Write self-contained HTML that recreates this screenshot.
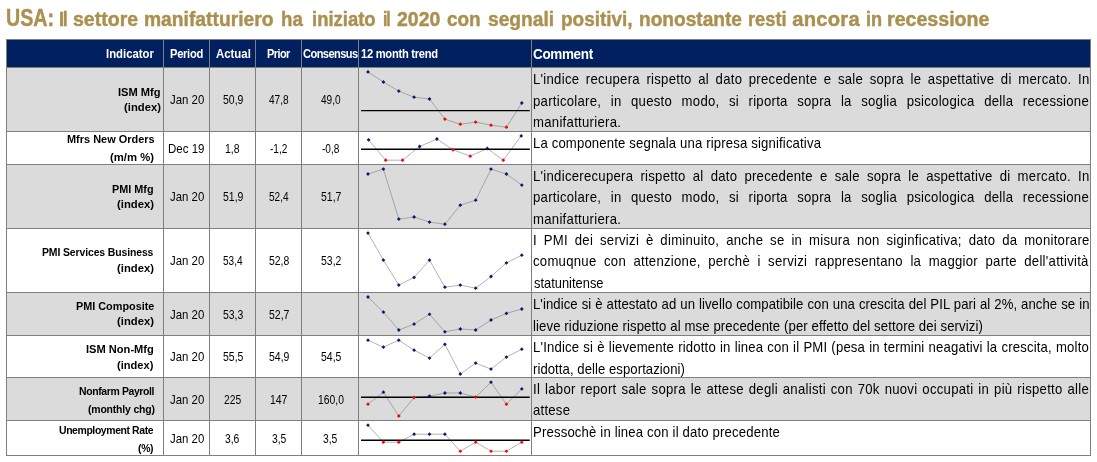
<!DOCTYPE html><html lang="it"><head><meta charset="utf-8"><title>USA indicators</title><style>
html,body{margin:0;padding:0;background:#fff}
body{width:1097px;height:462px;position:relative;overflow:hidden;font-family:"Liberation Sans", sans-serif}
.b{position:absolute}
.t{position:absolute;white-space:nowrap;transform-origin:0 0}
h1{margin:0;font:inherit}
svg{position:absolute;left:0;top:0}
</style></head><body>
<div class="b" style="left:6px;top:39px;width:1085px;height:28px;background:#002060"></div>
<div class="b" style="left:6px;top:66.5px;width:1085px;height:64.5px;background:#DBDBDB"></div>
<div class="b" style="left:6px;top:163.5px;width:1085px;height:64.5px;background:#DBDBDB"></div>
<div class="b" style="left:6px;top:291.5px;width:1085px;height:43.5px;background:#DBDBDB"></div>
<div class="b" style="left:6px;top:376.5px;width:1085px;height:43.5px;background:#DBDBDB"></div>
<div class="b" style="left:6px;top:39px;width:1px;height:416.5px;background:#7F7F7F"></div>
<div class="b" style="left:163px;top:39px;width:1px;height:416.5px;background:#7F7F7F"></div>
<div class="b" style="left:209px;top:39px;width:1px;height:416.5px;background:#7F7F7F"></div>
<div class="b" style="left:255px;top:39px;width:1px;height:416.5px;background:#7F7F7F"></div>
<div class="b" style="left:301px;top:39px;width:1px;height:416.5px;background:#7F7F7F"></div>
<div class="b" style="left:358px;top:39px;width:1px;height:416.5px;background:#7F7F7F"></div>
<div class="b" style="left:531px;top:39px;width:1px;height:416.5px;background:#7F7F7F"></div>
<div class="b" style="left:1090px;top:39px;width:1px;height:416.5px;background:#7F7F7F"></div>
<div class="b" style="left:6px;top:39px;width:1085px;height:1px;background:#7F7F7F"></div>
<div class="b" style="left:6px;top:66.5px;width:1085px;height:1px;background:#7F7F7F"></div>
<div class="b" style="left:6px;top:130.5px;width:1085px;height:1px;background:#7F7F7F"></div>
<div class="b" style="left:6px;top:163.5px;width:1085px;height:1px;background:#7F7F7F"></div>
<div class="b" style="left:6px;top:227.5px;width:1085px;height:1px;background:#7F7F7F"></div>
<div class="b" style="left:6px;top:291.5px;width:1085px;height:1px;background:#7F7F7F"></div>
<div class="b" style="left:6px;top:334.5px;width:1085px;height:1px;background:#7F7F7F"></div>
<div class="b" style="left:6px;top:376.5px;width:1085px;height:1px;background:#7F7F7F"></div>
<div class="b" style="left:6px;top:419.5px;width:1085px;height:1px;background:#7F7F7F"></div>
<div class="b" style="left:6px;top:454.5px;width:1085px;height:1px;background:#7F7F7F"></div>
<svg width="1097" height="462" viewBox="0 0 1097 462">
<polyline points="368.0,71.9 383.4,82.0 398.8,91.1 414.1,97.2 429.5,99.0 444.9,119.1 460.3,124.2 475.7,122.1 491.0,125.2 506.4,127.2 521.8,103.0" fill="none" stroke="#808080" stroke-width="0.6"/>
<line x1="361" x2="529.8" y1="110.6" y2="110.6" stroke="#000" stroke-width="1.4"/>
<path d="M368.0 70.0L369.9 71.9L368.0 73.8L366.1 71.9Z" fill="#001F6B"/>
<path d="M383.4 80.1L385.3 82.0L383.4 84.0L381.5 82.0Z" fill="#001F6B"/>
<path d="M398.8 89.2L400.7 91.1L398.8 93.0L396.9 91.1Z" fill="#001F6B"/>
<path d="M414.1 95.2L416.0 97.2L414.1 99.1L412.2 97.2Z" fill="#001F6B"/>
<path d="M429.5 97.0L431.4 99.0L429.5 100.9L427.6 99.0Z" fill="#001F6B"/>
<path d="M444.9 117.2L446.8 119.1L444.9 121.0L443.0 119.1Z" fill="#FF0000"/>
<path d="M460.3 122.3L462.2 124.2L460.3 126.1L458.4 124.2Z" fill="#FF0000"/>
<path d="M475.7 120.2L477.6 122.1L475.7 124.0L473.8 122.1Z" fill="#FF0000"/>
<path d="M491.0 123.3L492.9 125.2L491.0 127.1L489.1 125.2Z" fill="#FF0000"/>
<path d="M506.4 125.3L508.3 127.2L506.4 129.1L504.5 127.2Z" fill="#FF0000"/>
<path d="M521.8 101.1L523.7 103.0L521.8 105.0L519.9 103.0Z" fill="#001F6B"/>
<polyline points="368.6,139.8 385.7,160.2 402.6,160.2 419.6,146.5 436.9,139.0 453.0,149.8 470.2,156.2 487.3,148.5 503.3,160.2 521.2,135.9" fill="none" stroke="#808080" stroke-width="0.6"/>
<line x1="361" x2="529.8" y1="149.3" y2="149.3" stroke="#000" stroke-width="1.4"/>
<path d="M368.6 137.9L370.5 139.8L368.6 141.7L366.7 139.8Z" fill="#001F6B"/>
<path d="M385.7 158.3L387.6 160.2L385.7 162.1L383.8 160.2Z" fill="#FF0000"/>
<path d="M402.6 158.3L404.5 160.2L402.6 162.1L400.7 160.2Z" fill="#FF0000"/>
<path d="M419.6 144.6L421.5 146.5L419.6 148.4L417.8 146.5Z" fill="#001F6B"/>
<path d="M436.9 137.1L438.8 139.0L436.9 140.9L435.0 139.0Z" fill="#001F6B"/>
<path d="M453.0 147.9L454.9 149.8L453.0 151.7L451.1 149.8Z" fill="#FF0000"/>
<path d="M470.2 154.3L472.1 156.2L470.2 158.1L468.3 156.2Z" fill="#FF0000"/>
<path d="M487.3 146.6L489.2 148.5L487.3 150.4L485.4 148.5Z" fill="#001F6B"/>
<path d="M503.3 158.3L505.2 160.2L503.3 162.1L501.4 160.2Z" fill="#FF0000"/>
<path d="M521.2 134.0L523.1 135.9L521.2 137.8L519.3 135.9Z" fill="#001F6B"/>
<polyline points="368.0,174.0 383.4,169.1 398.8,219.1 414.1,217.0 429.5,222.1 444.9,224.2 460.3,205.2 475.7,200.2 491.0,169.1 506.4,174.0 521.8,185.1" fill="none" stroke="#808080" stroke-width="0.6"/>
<path d="M368.0 172.1L369.9 174.0L368.0 175.9L366.1 174.0Z" fill="#001F6B"/>
<path d="M383.4 167.2L385.3 169.1L383.4 171.0L381.5 169.1Z" fill="#001F6B"/>
<path d="M398.8 217.2L400.7 219.1L398.8 221.0L396.9 219.1Z" fill="#001F6B"/>
<path d="M414.1 215.1L416.0 217.0L414.1 218.9L412.2 217.0Z" fill="#001F6B"/>
<path d="M429.5 220.2L431.4 222.1L429.5 224.0L427.6 222.1Z" fill="#001F6B"/>
<path d="M444.9 222.3L446.8 224.2L444.9 226.1L443.0 224.2Z" fill="#001F6B"/>
<path d="M460.3 203.2L462.2 205.2L460.3 207.1L458.4 205.2Z" fill="#001F6B"/>
<path d="M475.7 198.3L477.6 200.2L475.7 202.1L473.8 200.2Z" fill="#001F6B"/>
<path d="M491.0 167.2L492.9 169.1L491.0 171.0L489.1 169.1Z" fill="#001F6B"/>
<path d="M506.4 172.1L508.3 174.0L506.4 175.9L504.5 174.0Z" fill="#001F6B"/>
<path d="M521.8 183.2L523.7 185.1L521.8 187.0L519.9 185.1Z" fill="#001F6B"/>
<polyline points="368.0,233.1 383.4,260.1 398.8,285.1 414.1,277.4 429.5,260.1 444.9,287.2 460.3,285.1 475.7,288.2 491.0,276.5 506.4,262.9 521.8,255.2" fill="none" stroke="#808080" stroke-width="0.6"/>
<path d="M368.0 231.2L369.9 233.1L368.0 235.0L366.1 233.1Z" fill="#001F6B"/>
<path d="M383.4 258.2L385.3 260.1L383.4 262.0L381.5 260.1Z" fill="#001F6B"/>
<path d="M398.8 283.2L400.7 285.1L398.8 287.0L396.9 285.1Z" fill="#001F6B"/>
<path d="M414.1 275.5L416.0 277.4L414.1 279.3L412.2 277.4Z" fill="#001F6B"/>
<path d="M429.5 258.2L431.4 260.1L429.5 262.0L427.6 260.1Z" fill="#001F6B"/>
<path d="M444.9 285.3L446.8 287.2L444.9 289.1L443.0 287.2Z" fill="#001F6B"/>
<path d="M460.3 283.2L462.2 285.1L460.3 287.0L458.4 285.1Z" fill="#001F6B"/>
<path d="M475.7 286.3L477.6 288.2L475.7 290.1L473.8 288.2Z" fill="#001F6B"/>
<path d="M491.0 274.6L492.9 276.5L491.0 278.4L489.1 276.5Z" fill="#001F6B"/>
<path d="M506.4 261.0L508.3 262.9L506.4 264.8L504.5 262.9Z" fill="#001F6B"/>
<path d="M521.8 253.3L523.7 255.2L521.8 257.1L519.9 255.2Z" fill="#001F6B"/>
<polyline points="368.0,297.0 383.4,312.1 398.8,330.0 414.1,324.1 429.5,314.2 444.9,331.8 460.3,329.0 475.7,330.0 491.0,320.0 506.4,313.4 521.8,309.0" fill="none" stroke="#808080" stroke-width="0.6"/>
<path d="M368.0 295.1L369.9 297.0L368.0 298.9L366.1 297.0Z" fill="#001F6B"/>
<path d="M383.4 310.2L385.3 312.1L383.4 314.0L381.5 312.1Z" fill="#001F6B"/>
<path d="M398.8 328.1L400.7 330.0L398.8 331.9L396.9 330.0Z" fill="#001F6B"/>
<path d="M414.1 322.2L416.0 324.1L414.1 326.0L412.2 324.1Z" fill="#001F6B"/>
<path d="M429.5 312.4L431.4 314.2L429.5 316.1L427.6 314.2Z" fill="#001F6B"/>
<path d="M444.9 329.9L446.8 331.8L444.9 333.7L443.0 331.8Z" fill="#001F6B"/>
<path d="M460.3 327.1L462.2 329.0L460.3 330.9L458.4 329.0Z" fill="#001F6B"/>
<path d="M475.7 328.1L477.6 330.0L475.7 331.9L473.8 330.0Z" fill="#001F6B"/>
<path d="M491.0 318.1L492.9 320.0L491.0 321.9L489.1 320.0Z" fill="#001F6B"/>
<path d="M506.4 311.5L508.3 313.4L506.4 315.3L504.5 313.4Z" fill="#001F6B"/>
<path d="M521.8 307.1L523.7 309.0L521.8 310.9L519.9 309.0Z" fill="#001F6B"/>
<polyline points="368.0,340.2 383.4,347.1 398.8,340.2 414.1,350.2 429.5,358.1 444.9,344.3 460.3,374.0 475.7,363.1 491.0,369.1 506.4,357.1 521.8,349.2" fill="none" stroke="#808080" stroke-width="0.6"/>
<path d="M368.0 338.3L369.9 340.2L368.0 342.1L366.1 340.2Z" fill="#001F6B"/>
<path d="M383.4 345.2L385.3 347.1L383.4 349.0L381.5 347.1Z" fill="#001F6B"/>
<path d="M398.8 338.3L400.7 340.2L398.8 342.1L396.9 340.2Z" fill="#001F6B"/>
<path d="M414.1 348.3L416.0 350.2L414.1 352.1L412.2 350.2Z" fill="#001F6B"/>
<path d="M429.5 356.2L431.4 358.1L429.5 359.9L427.6 358.1Z" fill="#001F6B"/>
<path d="M444.9 342.4L446.8 344.3L444.9 346.2L443.0 344.3Z" fill="#001F6B"/>
<path d="M460.3 372.1L462.2 374.0L460.3 375.9L458.4 374.0Z" fill="#001F6B"/>
<path d="M475.7 361.2L477.6 363.1L475.7 365.0L473.8 363.1Z" fill="#001F6B"/>
<path d="M491.0 367.2L492.9 369.1L491.0 370.9L489.1 369.1Z" fill="#001F6B"/>
<path d="M506.4 355.2L508.3 357.1L506.4 359.0L504.5 357.1Z" fill="#001F6B"/>
<path d="M521.8 347.3L523.7 349.2L521.8 351.1L519.9 349.2Z" fill="#001F6B"/>
<polyline points="368.0,404.2 383.4,392.2 398.8,416.0 414.1,397.6 429.5,396.1 444.9,393.0 460.3,393.0 475.7,397.1 491.0,382.2 506.4,404.2 521.8,388.9" fill="none" stroke="#808080" stroke-width="0.6"/>
<line x1="361" x2="529.8" y1="397.3" y2="397.3" stroke="#000" stroke-width="1.4"/>
<path d="M368.0 402.3L369.9 404.2L368.0 406.1L366.1 404.2Z" fill="#FF0000"/>
<path d="M383.4 390.3L385.3 392.2L383.4 394.1L381.5 392.2Z" fill="#001F6B"/>
<path d="M398.8 414.1L400.7 416.0L398.8 417.9L396.9 416.0Z" fill="#FF0000"/>
<path d="M414.1 395.7L416.0 397.6L414.1 399.5L412.2 397.6Z" fill="#FF0000"/>
<path d="M429.5 394.2L431.4 396.1L429.5 398.0L427.6 396.1Z" fill="#001F6B"/>
<path d="M444.9 391.1L446.8 393.0L444.9 394.9L443.0 393.0Z" fill="#001F6B"/>
<path d="M460.3 391.1L462.2 393.0L460.3 394.9L458.4 393.0Z" fill="#001F6B"/>
<path d="M475.7 395.2L477.6 397.1L475.7 399.0L473.8 397.1Z" fill="#FF0000"/>
<path d="M491.0 380.3L492.9 382.2L491.0 384.1L489.1 382.2Z" fill="#001F6B"/>
<path d="M506.4 402.3L508.3 404.2L506.4 406.1L504.5 404.2Z" fill="#FF0000"/>
<path d="M521.8 387.0L523.7 388.9L521.8 390.8L519.9 388.9Z" fill="#001F6B"/>
<polyline points="368.0,425.2 383.4,442.2 398.8,442.2 414.1,434.2 429.5,434.2 444.9,434.2 460.3,451.2 475.7,442.2 491.0,451.2 506.4,451.2 521.8,442.2" fill="none" stroke="#808080" stroke-width="0.6"/>
<line x1="361" x2="529.8" y1="440.3" y2="440.3" stroke="#000" stroke-width="1.4"/>
<path d="M368.0 423.3L369.9 425.2L368.0 427.1L366.1 425.2Z" fill="#001F6B"/>
<path d="M383.4 440.3L385.3 442.2L383.4 444.1L381.5 442.2Z" fill="#FF0000"/>
<path d="M398.8 440.3L400.7 442.2L398.8 444.1L396.9 442.2Z" fill="#FF0000"/>
<path d="M414.1 432.3L416.0 434.2L414.1 436.1L412.2 434.2Z" fill="#001F6B"/>
<path d="M429.5 432.3L431.4 434.2L429.5 436.1L427.6 434.2Z" fill="#001F6B"/>
<path d="M444.9 432.3L446.8 434.2L444.9 436.1L443.0 434.2Z" fill="#001F6B"/>
<path d="M460.3 449.4L462.2 451.2L460.3 453.1L458.4 451.2Z" fill="#FF0000"/>
<path d="M475.7 440.3L477.6 442.2L475.7 444.1L473.8 442.2Z" fill="#FF0000"/>
<path d="M491.0 449.4L492.9 451.2L491.0 453.1L489.1 451.2Z" fill="#FF0000"/>
<path d="M506.4 449.4L508.3 451.2L506.4 453.1L504.5 451.2Z" fill="#FF0000"/>
<path d="M521.8 440.3L523.7 442.2L521.8 444.1L519.9 442.2Z" fill="#FF0000"/>
</svg>
<h1>
<span class="t" style="font-size:23.5px;line-height:26px;color:#AA9150;font-weight:bold;-webkit-text-stroke:0.45px #AA9150;left:6.26px;top:5px;transform:scaleX(0.8361);">USA:</span> 
<span class="t" style="font-size:20.2px;line-height:22px;color:#AA9150;font-weight:bold;-webkit-text-stroke:0.45px #AA9150;left:59.10px;top:8px;letter-spacing:-1.414px;transform:scaleX(0.8964);">Il</span> 
<span class="t" style="font-size:20.2px;line-height:22px;color:#AA9150;font-weight:bold;-webkit-text-stroke:0.45px #AA9150;left:73.42px;top:8px;transform:scaleX(0.9668);">settore</span> 
<span class="t" style="font-size:20.2px;line-height:22px;color:#AA9150;font-weight:bold;-webkit-text-stroke:0.45px #AA9150;left:144.35px;top:8px;transform:scaleX(0.9537);">manifatturiero</span> 
<span class="t" style="font-size:20.2px;line-height:22px;color:#AA9150;font-weight:bold;-webkit-text-stroke:0.45px #AA9150;left:280.97px;top:8px;transform:scaleX(0.9261);">ha</span> 
<span class="t" style="font-size:20.2px;line-height:22px;color:#AA9150;font-weight:bold;-webkit-text-stroke:0.45px #AA9150;left:312.09px;top:8px;transform:scaleX(0.9147);">iniziato</span> 
<span class="t" style="font-size:20.2px;line-height:22px;color:#AA9150;font-weight:bold;-webkit-text-stroke:0.45px #AA9150;left:382.71px;top:8px;letter-spacing:-1.414px;transform:scaleX(0.7909);">il</span> 
<span class="t" style="font-size:20.2px;line-height:22px;color:#AA9150;font-weight:bold;-webkit-text-stroke:0.45px #AA9150;left:396.62px;top:8px;transform:scaleX(0.9632);">2020</span> 
<span class="t" style="font-size:20.2px;line-height:22px;color:#AA9150;font-weight:bold;-webkit-text-stroke:0.45px #AA9150;left:447.13px;top:8px;transform:scaleX(0.9391);">con</span> 
<span class="t" style="font-size:20.2px;line-height:22px;color:#AA9150;font-weight:bold;-webkit-text-stroke:0.45px #AA9150;left:488.44px;top:8px;transform:scaleX(0.9500);">segnali</span> 
<span class="t" style="font-size:20.2px;line-height:22px;color:#AA9150;font-weight:bold;-webkit-text-stroke:0.45px #AA9150;left:561.06px;top:8px;transform:scaleX(0.9390);">positivi,</span> 
<span class="t" style="font-size:20.2px;line-height:22px;color:#AA9150;font-weight:bold;-webkit-text-stroke:0.45px #AA9150;left:638.75px;top:8px;transform:scaleX(0.9467);">nonostante</span> 
<span class="t" style="font-size:20.2px;line-height:22px;color:#AA9150;font-weight:bold;-webkit-text-stroke:0.45px #AA9150;left:748.40px;top:8px;transform:scaleX(0.9036);">resti</span> 
<span class="t" style="font-size:20.2px;line-height:22px;color:#AA9150;font-weight:bold;-webkit-text-stroke:0.45px #AA9150;left:792.34px;top:8px;letter-spacing:0.218px;transform:scaleX(1.0000);">ancora</span> 
<span class="t" style="font-size:20.2px;line-height:22px;color:#AA9150;font-weight:bold;-webkit-text-stroke:0.45px #AA9150;left:866.30px;top:8px;letter-spacing:-0.111px;transform:scaleX(0.9000);">in</span> 
<span class="t" style="font-size:20.2px;line-height:22px;color:#AA9150;font-weight:bold;-webkit-text-stroke:0.45px #AA9150;left:887.33px;top:8px;transform:scaleX(0.9712);">recessione</span> 
</h1>
<div class="t" style="font-size:12.4px;line-height:14px;color:#fff;font-weight:bold;left:105.84px;top:47px;transform:scaleX(0.9160);">Indicator</div>
<div class="t" style="font-size:12.4px;line-height:14px;color:#fff;font-weight:bold;left:169.96px;top:47px;letter-spacing:-0.323px;transform:scaleX(0.9000);">Period</div>
<div class="t" style="font-size:12.4px;line-height:14px;color:#fff;font-weight:bold;left:215.60px;top:47px;transform:scaleX(0.9202);">Actual</div>
<div class="t" style="font-size:12.4px;line-height:14px;color:#fff;font-weight:bold;left:266.97px;top:47px;letter-spacing:-0.620px;transform:scaleX(0.8835);">Prior</div>
<div class="t" style="font-size:12.4px;line-height:14px;color:#fff;font-weight:bold;left:302.80px;top:47px;letter-spacing:-0.620px;transform:scaleX(0.8934);">Consensus</div>
<div class="t" style="font-size:12.4px;line-height:14px;color:#fff;font-weight:bold;left:361.00px;top:47px;letter-spacing:-0.290px;transform:scaleX(0.9000);">12 month trend</div>
<div class="t" style="font-size:15px;line-height:17px;color:#fff;font-weight:bold;left:532.88px;top:45px;letter-spacing:-0.393px;transform:scaleX(0.9000);">Comment</div>
<div class="t" style="font-size:11.6px;line-height:12px;color:#000;font-weight:bold;left:118.35px;top:86px;transform:scaleX(0.9557);">ISM Mfg</div>
<div class="t" style="font-size:11.6px;line-height:12px;color:#000;font-weight:bold;left:123.70px;top:101px;transform:scaleX(0.9710);">(index)</div>
<div class="t" style="font-size:11.6px;line-height:12px;color:#000;font-weight:bold;left:66.66px;top:133px;transform:scaleX(0.9446);">Mfrs New Orders</div>
<div class="t" style="font-size:11.6px;line-height:12px;color:#000;font-weight:bold;left:109.90px;top:151px;transform:scaleX(0.9756);">(m/m %)</div>
<div class="t" style="font-size:11.6px;line-height:12px;color:#000;font-weight:bold;left:112.07px;top:183px;transform:scaleX(0.9348);">PMI Mfg</div>
<div class="t" style="font-size:11.6px;line-height:12px;color:#000;font-weight:bold;left:116.60px;top:198px;transform:scaleX(0.9737);">(index)</div>
<div class="t" style="font-size:11.6px;line-height:12px;color:#000;font-weight:bold;left:42.40px;top:246px;letter-spacing:-0.128px;transform:scaleX(0.9000);">PMI Services Business</div>
<div class="t" style="font-size:11.6px;line-height:12px;color:#000;font-weight:bold;left:117.00px;top:262px;transform:scaleX(0.9710);">(index)</div>
<div class="t" style="font-size:11.6px;line-height:12px;color:#000;font-weight:bold;left:75.87px;top:300px;transform:scaleX(0.9352);">PMI Composite</div>
<div class="t" style="font-size:11.6px;line-height:12px;color:#000;font-weight:bold;left:117.10px;top:315px;transform:scaleX(0.9710);">(index)</div>
<div class="t" style="font-size:11.6px;line-height:12px;color:#000;font-weight:bold;left:86.35px;top:343px;transform:scaleX(0.9575);">ISM Non-Mfg</div>
<div class="t" style="font-size:11.6px;line-height:12px;color:#000;font-weight:bold;left:117.31px;top:359px;transform:scaleX(0.9576);">(index)</div>
<div class="t" style="font-size:11.6px;line-height:12px;color:#000;font-weight:bold;left:79.10px;top:385px;letter-spacing:-0.405px;transform:scaleX(0.9000);">Nonfarm Payroll</div>
<div class="t" style="font-size:11.6px;line-height:12px;color:#000;font-weight:bold;left:87.75px;top:403px;letter-spacing:-0.190px;transform:scaleX(0.9000);">(monthly chg)</div>
<div class="t" style="font-size:11.6px;line-height:12px;color:#000;font-weight:bold;left:58.96px;top:424px;letter-spacing:-0.442px;transform:scaleX(0.9000);">Unemployment Rate</div>
<div class="t" style="font-size:11.6px;line-height:12px;color:#000;font-weight:bold;left:137.85px;top:442px;letter-spacing:-0.359px;transform:scaleX(0.9000);">(%)</div>
<div class="t" style="font-size:12.2px;line-height:14px;color:#000;left:170.30px;top:93px;transform:scaleX(0.9357);">Jan 20</div>
<div class="t" style="font-size:12.2px;line-height:14px;color:#000;left:222.64px;top:93px;transform:scaleX(0.8585);">50,9</div>
<div class="t" style="font-size:12.2px;line-height:14px;color:#000;left:269.48px;top:93px;transform:scaleX(0.8296);">47,8</div>
<div class="t" style="font-size:12.2px;line-height:14px;color:#000;left:321.27px;top:93px;transform:scaleX(0.8274);">49,0</div>
<div class="t" style="font-size:12.2px;line-height:14px;color:#000;left:168.26px;top:142px;transform:scaleX(0.9432);">Dec 19</div>
<div class="t" style="font-size:12.2px;line-height:14px;color:#000;left:225.21px;top:142px;transform:scaleX(0.8583);">1,8</div>
<div class="t" style="font-size:12.2px;line-height:14px;color:#000;left:270.40px;top:142px;transform:scaleX(0.8286);">-1,2</div>
<div class="t" style="font-size:12.2px;line-height:14px;color:#000;left:322.20px;top:142px;transform:scaleX(0.8286);">-0,8</div>
<div class="t" style="font-size:12.2px;line-height:14px;color:#000;left:170.30px;top:190px;transform:scaleX(0.9357);">Jan 20</div>
<div class="t" style="font-size:12.2px;line-height:14px;color:#000;left:222.64px;top:190px;transform:scaleX(0.8585);">51,9</div>
<div class="t" style="font-size:12.2px;line-height:14px;color:#000;left:268.86px;top:190px;transform:scaleX(0.8276);">52,4</div>
<div class="t" style="font-size:12.2px;line-height:14px;color:#000;left:320.64px;top:190px;transform:scaleX(0.8582);">51,7</div>
<div class="t" style="font-size:12.2px;line-height:14px;color:#000;left:170.30px;top:254px;transform:scaleX(0.9357);">Jan 20</div>
<div class="t" style="font-size:12.2px;line-height:14px;color:#000;left:222.66px;top:254px;transform:scaleX(0.8276);">53,4</div>
<div class="t" style="font-size:12.2px;line-height:14px;color:#000;left:268.84px;top:254px;transform:scaleX(0.8570);">52,8</div>
<div class="t" style="font-size:12.2px;line-height:14px;color:#000;left:320.64px;top:254px;transform:scaleX(0.8582);">53,2</div>
<div class="t" style="font-size:12.2px;line-height:14px;color:#000;left:170.30px;top:308px;transform:scaleX(0.9357);">Jan 20</div>
<div class="t" style="font-size:12.2px;line-height:14px;color:#000;left:222.64px;top:308px;transform:scaleX(0.8573);">53,3</div>
<div class="t" style="font-size:12.2px;line-height:14px;color:#000;left:268.84px;top:308px;transform:scaleX(0.8582);">52,7</div>
<div class="t" style="font-size:12.2px;line-height:14px;color:#000;left:170.30px;top:350px;transform:scaleX(0.9357);">Jan 20</div>
<div class="t" style="font-size:12.2px;line-height:14px;color:#000;left:222.64px;top:350px;transform:scaleX(0.8576);">55,5</div>
<div class="t" style="font-size:12.2px;line-height:14px;color:#000;left:268.84px;top:350px;transform:scaleX(0.8585);">54,9</div>
<div class="t" style="font-size:12.2px;line-height:14px;color:#000;left:320.64px;top:350px;transform:scaleX(0.8576);">54,5</div>
<div class="t" style="font-size:12.2px;line-height:14px;color:#000;left:170.30px;top:393px;transform:scaleX(0.9357);">Jan 20</div>
<div class="t" style="font-size:12.2px;line-height:14px;color:#000;left:224.20px;top:393px;transform:scaleX(0.8440);">225</div>
<div class="t" style="font-size:12.2px;line-height:14px;color:#000;left:270.14px;top:393px;transform:scaleX(0.8570);">147</div>
<div class="t" style="font-size:12.2px;line-height:14px;color:#000;left:317.77px;top:393px;transform:scaleX(0.8490);">160,0</div>
<div class="t" style="font-size:12.2px;line-height:14px;color:#000;left:170.30px;top:432px;transform:scaleX(0.9357);">Jan 20</div>
<div class="t" style="font-size:12.2px;line-height:14px;color:#000;left:225.40px;top:432px;transform:scaleX(0.8469);">3,6</div>
<div class="t" style="font-size:12.2px;line-height:14px;color:#000;left:271.60px;top:432px;transform:scaleX(0.8469);">3,5</div>
<div class="t" style="font-size:12.2px;line-height:14px;color:#000;left:323.40px;top:432px;transform:scaleX(0.8469);">3,5</div>
<div class="t" style="font-size:14.6px;line-height:16px;color:#000;left:532.60px;top:71px;letter-spacing:0.300px;word-spacing:2.950px;transform:scaleX(0.9000);">L'indice recupera rispetto al dato precedente e sale sopra le aspettative di mercato. In</div>
<div class="t" style="font-size:14.6px;line-height:16px;color:#000;left:532.62px;top:93px;letter-spacing:0.300px;word-spacing:6.229px;transform:scaleX(0.9000);">particolare, in questo modo, si riporta sopra la soglia psicologica della recessione</div>
<div class="t" style="font-size:14.6px;line-height:16px;color:#000;left:532.60px;top:114px;letter-spacing:0.317px;transform:scaleX(0.9000);">manifatturiera.</div>
<div class="t" style="font-size:14.6px;line-height:16px;color:#000;left:532.60px;top:135px;letter-spacing:0.165px;transform:scaleX(0.9000);">La componente segnala una ripresa significativa</div>
<div class="t" style="font-size:14.6px;line-height:16px;color:#000;left:532.60px;top:168px;letter-spacing:0.300px;word-spacing:3.554px;transform:scaleX(0.9000);">L'indicerecupera rispetto al dato precedente e sale sopra le aspettative di mercato. In</div>
<div class="t" style="font-size:14.6px;line-height:16px;color:#000;left:532.62px;top:189px;letter-spacing:0.300px;word-spacing:6.229px;transform:scaleX(0.9000);">particolare, in questo modo, si riporta sopra la soglia psicologica della recessione</div>
<div class="t" style="font-size:14.6px;line-height:16px;color:#000;left:532.60px;top:211px;letter-spacing:0.317px;transform:scaleX(0.9000);">manifatturiera.</div>
<div class="t" style="font-size:14.6px;line-height:16px;color:#000;left:532.60px;top:232px;letter-spacing:0.300px;word-spacing:3.260px;transform:scaleX(0.9000);">I PMI dei servizi è diminuito, anche se in misura non siginficativa; dato da monitorare</div>
<div class="t" style="font-size:14.6px;line-height:16px;color:#000;left:532.88px;top:253px;letter-spacing:0.300px;word-spacing:3.963px;transform:scaleX(0.9000);">comuqnue con attenzione, perchè i servizi rappresentano la maggior parte dell'attività</div>
<div class="t" style="font-size:14.6px;line-height:16px;color:#000;left:533.50px;top:275px;transform:scaleX(0.8833);">statunitense</div>
<div class="t" style="font-size:14.6px;line-height:16px;color:#000;left:532.60px;top:296px;letter-spacing:0.073px;word-spacing:0.300px;transform:scaleX(0.9000);">L'indice si è attestato ad un livello compatibile con una crescita del PIL pari al 2%, anche se in</div>
<div class="t" style="font-size:14.6px;line-height:16px;color:#000;left:532.60px;top:318px;letter-spacing:0.129px;transform:scaleX(0.9000);">lieve riduzione rispetto al mse precedente (per effetto del settore dei servizi)</div>
<div class="t" style="font-size:14.6px;line-height:16px;color:#000;left:532.60px;top:339px;letter-spacing:0.192px;word-spacing:0.300px;transform:scaleX(0.9000);">L'Indice si è lievemente ridotto in linea con il PMI (pesa in termini neagativi la crescita, molto</div>
<div class="t" style="font-size:14.6px;line-height:16px;color:#000;left:532.61px;top:361px;letter-spacing:0.060px;transform:scaleX(0.9000);">ridotta, delle esportazioni)</div>
<div class="t" style="font-size:14.6px;line-height:16px;color:#000;left:532.60px;top:381px;letter-spacing:0.300px;word-spacing:1.140px;transform:scaleX(0.9000);">Il labor report sale sopra le attese degli analisti con 70k nuovi occupati in più rispetto alle</div>
<div class="t" style="font-size:14.6px;line-height:16px;color:#000;left:532.89px;top:402px;letter-spacing:0.256px;transform:scaleX(0.9000);">attese</div>
<div class="t" style="font-size:14.6px;line-height:16px;color:#000;left:532.60px;top:424px;letter-spacing:0.182px;transform:scaleX(0.9000);">Pressochè in linea con il dato precedente</div>
</body></html>
